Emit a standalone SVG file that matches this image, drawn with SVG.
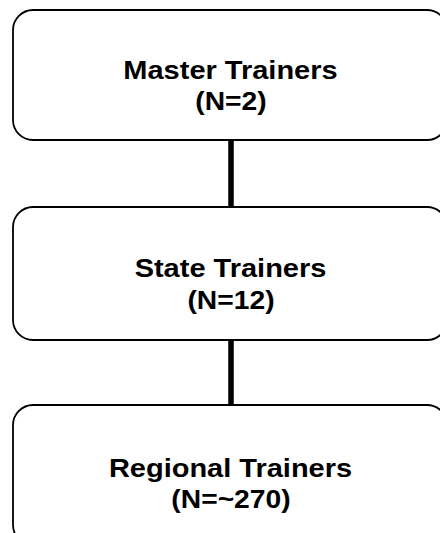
<svg xmlns="http://www.w3.org/2000/svg" width="440" height="533" viewBox="0 0 440 533">
<style>
.box{fill:#fff;stroke:#000;stroke-width:1.8}
.lbl{font-family:"Liberation Sans",Arial,sans-serif;font-weight:bold;font-size:25px;fill:#000;text-anchor:middle}
.conn{stroke:#000;stroke-width:5.5;fill:none}
</style>
<rect width="440" height="533" fill="#fff"/>
<g id="connectors">
<line class="conn" x1="231" y1="140" x2="231" y2="207"/>
<line class="conn" x1="231" y1="340" x2="231" y2="405"/>
</g>
<g id="master">
<rect class="box" x="13" y="10" width="434" height="130" rx="20" ry="20"/>
<text class="lbl" transform="translate(230.5,79) scale(1.16,1)">Master Trainers</text>
<text class="lbl" transform="translate(231,110) scale(1.13,1)">(N=2)</text>
</g>
<g id="state">
<rect class="box" x="13" y="207" width="434" height="133" rx="20" ry="20"/>
<text class="lbl" transform="translate(230.5,277) scale(1.16,1)">State Trainers</text>
<text class="lbl" transform="translate(231,309) scale(1.13,1)">(N=12)</text>
</g>
<g id="regional">
<rect class="box" x="13" y="405" width="434" height="140" rx="20" ry="20"/>
<text class="lbl" transform="translate(230.5,477) scale(1.16,1)">Regional Trainers</text>
<text class="lbl" transform="translate(231,508) scale(1.13,1)">(N=~270)</text>
</g>
</svg>
